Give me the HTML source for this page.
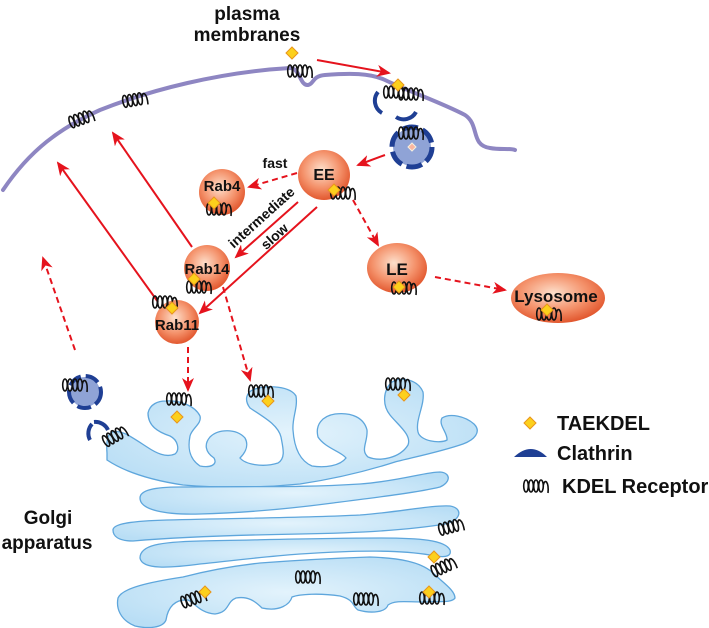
<!DOCTYPE html>
<html><head><meta charset="utf-8"><style>
html,body{margin:0;padding:0;background:#fff}
svg{display:block}
text{font-family:"Liberation Sans",Arial,sans-serif;font-weight:bold;fill:#111}
</style></head><body>
<svg width="709" height="628" viewBox="0 0 709 628" xmlns="http://www.w3.org/2000/svg">
<defs>
<radialGradient id="org" cx="45%" cy="40%" r="60%">
<stop offset="0" stop-color="#fde0cc"/><stop offset="0.6" stop-color="#f4916a"/><stop offset="1" stop-color="#e2582f"/>
</radialGradient>
<radialGradient id="gol" cx="50%" cy="50%" r="60%">
<stop offset="0" stop-color="#e3f3fc"/><stop offset="1" stop-color="#b9def5"/>
</radialGradient>
<marker id="ah" markerWidth="14" markerHeight="12" refX="12" refY="6" orient="auto" markerUnits="userSpaceOnUse">
<path d="M0,0 L14,6 L0,12 L4,6 Z" fill="#e5131d"/>
</marker>
<g id="c" fill="none" stroke="#111" stroke-width="1.6">
<ellipse cx="3" cy="7" rx="2.3" ry="6"/><ellipse cx="8" cy="7" rx="2.3" ry="6"/><ellipse cx="13" cy="7" rx="2.3" ry="6"/><ellipse cx="18" cy="7" rx="2.3" ry="6"/>
<path d="M20.3,6 C22,-1 26,3 25,14"/>
</g>
<path id="d" d="M0,-6 L6,0 L0,6 L-6,0 Z" fill="#fcd01c" stroke="#e8951a" stroke-width="1"/>
</defs>

<!-- plasma membrane -->
<path d="M3,190 C30,150 60,128 100,110 C150,90 220,72 290,68 C300,68 300,86 308,85 C314,84 312,76 325,75 C350,73 370,73 385,80 C410,92 440,102 465,115 C480,125 470,145 490,148 C500,150 510,148 515,150" fill="none" stroke="#8e86c2" stroke-width="4" stroke-linecap="round"/>

<!-- membrane receptors -->
<use href="#c" x="68" y="112" transform="rotate(-20 80 118)"/>
<use href="#c" x="122" y="93" transform="rotate(-10 133 100)"/>
<use href="#c" x="287" y="64"/>
<use href="#d" x="292" y="53"/>
<!-- coated pit -->
<path d="M378,92 A14,14 0 0 0 382,113" fill="none" stroke="#1f3f94" stroke-width="4"/>
<path d="M396,117 A14,14 0 0 0 416,112" fill="none" stroke="#1f3f94" stroke-width="4"/>
<use href="#c" x="383" y="85"/><use href="#c" x="398" y="87"/>
<use href="#d" x="398" y="85"/>
<!-- vesicle -->
<circle cx="412" cy="147" r="19" fill="#8fa3d6"/>
<circle cx="412" cy="147" r="20" fill="none" stroke="#1f3f94" stroke-width="5" stroke-dasharray="16 5"/>
<use href="#c" x="398" y="126"/>
<path d="M412,143 L416,147 L412,151 L408,147 Z" fill="#fbb6a0" stroke="#f6f0e0"/>

<!-- arrows -->
<g stroke="#e5131d" stroke-width="2" fill="none">
<line x1="317" y1="60" x2="389" y2="73" marker-end="url(#ah)"/>
<line x1="385" y1="155" x2="358" y2="165" marker-end="url(#ah)"/>
<line x1="297" y1="173" x2="249" y2="187" stroke-dasharray="6 4" marker-end="url(#ah)"/>
<line x1="298" y1="202" x2="236" y2="257" marker-end="url(#ah)"/>
<line x1="317" y1="207" x2="200" y2="313" marker-end="url(#ah)"/>
<line x1="192" y1="247" x2="113" y2="133" marker-end="url(#ah)"/>
<line x1="158" y1="302" x2="58" y2="163" marker-end="url(#ah)"/>
<line x1="75" y1="350" x2="43" y2="258" stroke-dasharray="6 4" marker-end="url(#ah)"/>
<line x1="353" y1="200" x2="378" y2="245" stroke-dasharray="6 4" marker-end="url(#ah)"/>
<line x1="435" y1="277" x2="505" y2="290" stroke-dasharray="6 4" marker-end="url(#ah)"/>
<line x1="188" y1="347" x2="188" y2="390" stroke-dasharray="6 4" marker-end="url(#ah)"/>
<line x1="223" y1="287" x2="250" y2="380" stroke-dasharray="6 4" marker-end="url(#ah)"/>
</g>

<!-- organelles -->
<circle cx="222" cy="192" r="23" fill="url(#org)"/>
<ellipse cx="324" cy="175" rx="26" ry="25" fill="url(#org)"/>
<circle cx="207" cy="268" r="23" fill="url(#org)"/>
<circle cx="177" cy="322" r="22" fill="url(#org)"/>
<ellipse cx="397" cy="268" rx="30" ry="25" fill="url(#org)"/>
<ellipse cx="558" cy="298" rx="47" ry="25" fill="url(#org)"/>
<text x="222" y="191" font-size="15" text-anchor="middle">Rab4</text>
<text x="324" y="180" font-size="16" text-anchor="middle">EE</text>
<text x="207" y="274" font-size="15" text-anchor="middle">Rab14</text>
<text x="177" y="330" font-size="15" text-anchor="middle">Rab11</text>
<text x="397" y="275" font-size="17" text-anchor="middle">LE</text>
<text x="556" y="302" font-size="17" text-anchor="middle">Lysosome</text>
<use href="#c" x="206" y="202"/><use href="#d" x="214" y="203"/>
<use href="#c" x="330" y="186"/><use href="#d" x="334" y="190"/>
<use href="#c" x="186" y="280"/><use href="#d" x="194" y="279"/>
<use href="#c" x="152" y="295"/><use href="#d" x="172" y="308"/>
<use href="#c" x="391" y="281"/><use href="#d" x="399" y="287"/>
<use href="#c" x="536" y="307"/><use href="#d" x="547" y="310"/>

<text x="275" y="168" font-size="14" text-anchor="middle">fast</text>
<text x="262" y="222" font-size="14" text-anchor="middle" transform="rotate(-42 262 218)">intermediate</text>
<text x="275" y="241" font-size="14" text-anchor="middle" transform="rotate(-42 275 237)">slow</text>

<text x="247" y="20" font-size="19" text-anchor="middle">plasma</text>
<text x="247" y="41" font-size="19" text-anchor="middle">membranes</text>

<!-- left vesicle -->
<circle cx="85" cy="392" r="15" fill="#8fa3d6"/>
<circle cx="85" cy="392" r="16" fill="none" stroke="#1f3f94" stroke-width="4" stroke-dasharray="14 5"/>
<use href="#c" x="62" y="378"/>
<path d="M94,422 A14,14 0 0 1 108,430" fill="none" stroke="#1f3f94" stroke-width="4"/>
<path d="M92,424 A14,14 0 0 0 90,440" fill="none" stroke="#1f3f94" stroke-width="4"/>

<!-- golgi -->
<g fill="url(#gol)" stroke="#5ea6dc" stroke-width="1.3">
<path d="M107,453 C106,440 108,433 113,432 C122,430 130,436 147,447 C156,453 166,458 175,454 C180,450 178,440 170,436 C158,432 148,426 148,413 C150,404 158,401 166,401 C180,400 195,406 200,416 C202,424 192,428 190,436 C188,446 188,458 200,466 C210,468 218,465 214,458 C205,452 204,444 210,437 C218,429 236,428 245,438 C250,447 243,455 240,458 C245,464 262,468 278,463 C286,458 283,448 281,437 C278,425 265,418 250,408 C244,400 246,392 255,389 C268,385 290,386 296,396 C298,408 292,418 293,430 C294,445 298,460 312,466 C325,468 340,466 346,458 C342,452 325,448 318,437 C315,425 322,416 335,414 C352,412 364,418 367,430 C368,442 360,450 368,457 C380,462 400,458 408,445 C412,435 398,425 390,415 C382,405 383,390 392,382 C402,376 418,380 423,392 C425,405 415,420 418,432 C420,441 440,444 447,440 C448,433 438,425 442,418 C450,413 465,416 474,424 C482,432 474,440 463,444 C440,452 410,458 395,462 C370,470 340,478 300,484 C260,488 220,488 183,485 C150,480 125,472 107,460 Z"/>
<path d="M140,498 C140,490 155,487 180,487 C240,486 300,488 360,484 C400,481 425,472 440,472 C452,473 450,483 440,487 C420,492 380,497 333,503 C280,510 240,513 200,514 C165,515 140,510 140,498 Z"/>
<path d="M113,530 C113,524 130,521 167,520 C240,518 300,518 360,515 C400,512 430,505 450,506 C463,508 462,520 445,524 C410,530 360,533 300,534 C240,535 180,537 133,541 C118,541 113,536 113,530 Z"/>
<path d="M140,558 C140,545 160,542 200,541 C260,540 320,538 380,538 C420,538 445,540 450,550 C452,557 444,558 430,555 C400,550 360,550 300,554 C260,557 230,561 200,564 C170,568 142,570 140,558 Z"/>
<path d="M118,598 C122,588 150,582 183,577 C210,570 233,566 260,563 C300,560 340,558 370,557 C400,558 420,562 432,572 C442,582 455,590 455,598 C452,603 440,601 425,602 C405,602 395,600 388,605 C386,612 372,614 358,610 C352,606 355,600 340,596 C320,593 300,594 292,597 C290,604 280,612 262,608 C255,601 248,596 236,598 C226,602 230,612 215,614 C200,613 195,603 188,600 C175,599 168,607 166,620 C163,628 148,629 135,626 C120,620 116,608 118,598 Z"/>
</g>
<use href="#c" x="166" y="392"/><use href="#d" x="177" y="417"/>
<use href="#c" x="248" y="384"/><use href="#d" x="268" y="401"/>
<use href="#c" x="385" y="377"/><use href="#d" x="404" y="395"/>
<use href="#c" x="102" y="430" transform="rotate(-30 113 437)"/>
<use href="#c" x="438" y="520" transform="rotate(-15 450 527)"/>
<use href="#c" x="430" y="560" transform="rotate(-25 443 566)"/><use href="#d" x="434" y="557"/>
<use href="#c" x="295" y="570"/>
<use href="#c" x="353" y="592"/>
<use href="#c" x="419" y="591"/><use href="#d" x="429" y="592"/>
<use href="#c" x="180" y="592" transform="rotate(-20 192 598)"/><use href="#d" x="205" y="592"/>

<text x="48" y="524" font-size="19" text-anchor="middle">Golgi</text>
<text x="47" y="549" font-size="19" text-anchor="middle">apparatus</text>

<!-- legend -->
<use href="#d" x="530" y="423"/>
<text x="557" y="430" font-size="20">TAEKDEL</text>
<path d="M514,457 Q531,441 547,457 Z" fill="#1f3f94"/>
<text x="557" y="460" font-size="20">Clathrin</text>
<use href="#c" x="523" y="479"/>
<text x="562" y="493" font-size="20">KDEL Receptor</text>
</svg>
</body></html>
